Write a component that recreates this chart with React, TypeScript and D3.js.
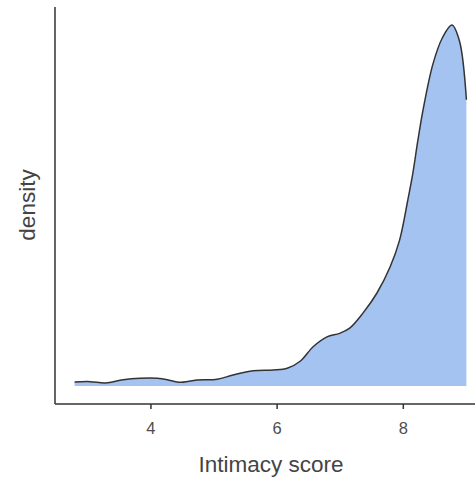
import React from "react";
import * as d3 from "d3";

const scores = [2.79, 3.04, 3.28, 3.56, 3.83, 4.1, 4.26, 4.44, 4.73, 5.05, 5.3, 5.62, 5.94, 6.16, 6.37, 6.57, 6.79, 6.99, 7.15, 7.36, 7.58, 7.79, 7.94, 8.07, 8.15, 8.23, 8.31, 8.47, 8.62, 8.77, 8.89, 9.0];
const densities = [0.0061, 0.0066, 0.0046, 0.0096, 0.0117, 0.0117, 0.0096, 0.0056, 0.0091, 0.0102, 0.0168, 0.0233, 0.0244, 0.027, 0.0381, 0.0599, 0.0751, 0.0803, 0.0884, 0.1113, 0.1417, 0.1818, 0.2225, 0.2835, 0.3246, 0.3749, 0.4206, 0.4923, 0.5323, 0.5517, 0.5273, 0.4374];
const xTicks = [4, 6, 8];
const xTitle = "Intimacy score";
const yTitle = "density";

const W = 475;
const H = 480;
const panel = { left: 55, right: 486, top: 7, bottom: 404 };

export default function App() {
  const xMin = d3.min(scores)!;
  const xMax = d3.max(scores)!;
  const xPad = (xMax - xMin) * 0.05;
  const x = d3.scaleLinear().domain([xMin - xPad, xMax + xPad]).range([panel.left, panel.right]);
  const yMax = d3.max(densities)!;
  const y = d3.scaleLinear().domain([-yMax * 0.05, yMax * 1.05]).range([panel.bottom, panel.top]);

  const data = scores.map((s, i) => ({ s, d: densities[i] }));
  const area = d3
    .area<{ s: number; d: number }>()
    .x((p) => x(p.s))
    .y0(y(0))
    .y1((p) => y(p.d))
    .curve(d3.curveCatmullRom.alpha(0.5));
  const line = d3
    .line<{ s: number; d: number }>()
    .x((p) => x(p.s))
    .y((p) => y(p.d))
    .curve(d3.curveCatmullRom.alpha(0.5));

  const font = "'Liberation Sans', Arial, sans-serif";
  return (
    <svg width={W} height={H} style={{ position: "absolute", left: 0, top: 0, background: "#fff" }}>
      <path d={area(data) || ""} fill="#a4c3f1" stroke="none" />
      <path d={line(data) || ""} fill="none" stroke="#333333" strokeWidth={1.5} />
      <line x1={panel.left} x2={W} y1={panel.bottom} y2={panel.bottom} stroke="#333" strokeWidth={1.5} />
      <line x1={panel.left} x2={panel.left} y1={panel.top} y2={panel.bottom} stroke="#333" strokeWidth={1.5} />
      {xTicks.map((t) => (
        <g key={t}>
          <line x1={x(t)} x2={x(t)} y1={panel.bottom} y2={panel.bottom + 5} stroke="#333" strokeWidth={1.5} />
          <text x={x(t)} y={434} textAnchor="middle" fontFamily={font} fontSize={16.5} fill="#4d4d4d">
            {t}
          </text>
        </g>
      ))}
      <text x={271} y={472} textAnchor="middle" fontFamily={font} fontSize={22.5} fill="#444">
        {xTitle}
      </text>
      <text
        transform={`translate(35, 205) rotate(-90)`}
        textAnchor="middle"
        fontFamily={font}
        fontSize={22.5}
        fill="#444"
      >
        {yTitle}
      </text>
    </svg>
  );
}
